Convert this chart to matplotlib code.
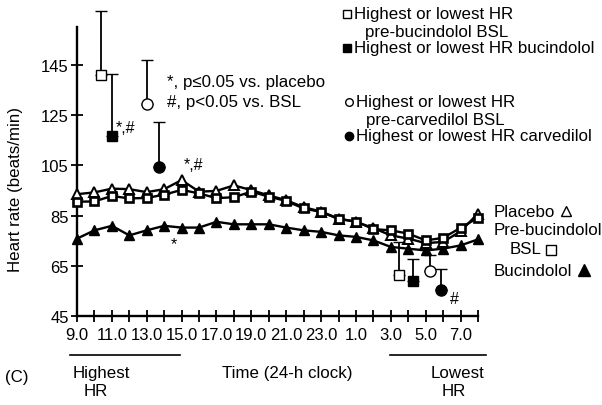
import numpy as np
import matplotlib
matplotlib.use("Agg")
from matplotlib import pyplot as plt
from matplotlib.lines import Line2D

plt.rcParams['font.family'] = ['Liberation Sans', 'DejaVu Sans']

# hours on a 9.0 -> 8.0 (next day) clock, written as 9..32
hours = np.arange(9, 33)
tick_hours = np.arange(9, 33, 2)
tick_labels = ["9.0", "11.0", "13.0", "15.0", "17.0", "19.0", "21.0", "23.0",
               "1.0", "3.0", "5.0", "7.0"]

placebo = [93.5, 94.2, 95.7, 95.5, 94.3, 95.5, 99.1, 94.5, 94.8, 97.0, 95.1, 93.0,
           91.1, 88.3, 86.6, 83.8, 82.5, 80.0, 77.1, 75.8, 74.0, 74.5, 78.7, 85.8]
pre_bucindolol = [90.5, 90.6, 92.8, 91.8, 92.0, 93.3, 95.2, 93.8, 91.9, 92.3, 94.5, 92.5,
                  90.8, 87.8, 86.4, 83.6, 82.6, 79.6, 79.1, 77.8, 75.1, 76.1, 80.1, 84.1]
bucindolol = [75.8, 79.1, 80.9, 77.1, 79.1, 80.9, 80.2, 80.2, 82.5, 81.5, 81.5, 81.5,
              80.2, 79.1, 78.5, 77.1, 76.5, 75.1, 72.5, 71.8, 71.1, 71.8, 73.1, 75.5]

# highest HR (daytime) and lowest HR (night) summary points: x, mean, upper error
high_x = [10.4, 11.0, 13.0, 13.7]
high_mean = [140.9, 116.8, 129.3, 104.2]
high_err = [25.6, 24.5, 17.6, 18.1]
low_x = [27.45, 28.25, 29.25, 29.85]
low_mean = [61.5, 58.9, 62.9, 55.3]
low_err = [13.0, 8.7, 6.3, 8.4]
summary_markers = ['s', 's', 'o', 'o']
summary_fill = ['white', 'black', 'white', 'black']

W, H = 602, 406
fig = plt.figure(figsize=(W / 100, H / 100), dpi=100)

def fx(px):
    return px / W

def fy(py):
    return 1 - py / H

ax = fig.add_axes([fx(77), fy(317), (478 - 77) / W, (317 - 3) / H])
ax.set_xlim(9, 32)
ax.set_ylim(45, 170)

ms = 6.5
ax.plot(hours, bucindolol, color='black', lw=1.7, marker='^', ms=ms,
        mfc='black', mec='black', clip_on=False, zorder=3)
ax.plot(hours, placebo, color='black', lw=1.7, marker='^', ms=ms,
        mfc='white', mec='black', mew=1.4, clip_on=False, zorder=4)
ax.plot(hours, pre_bucindolol, color='black', lw=1.7, marker='s', ms=5.5,
        mfc='white', mec='black', mew=1.9, clip_on=False, zorder=5)

for xs, ys, es in [(high_x, high_mean, high_err), (low_x, low_mean, low_err)]:
    for i in range(4):
        ax.errorbar([xs[i]], [ys[i]], yerr=[[0], [es[i]]], fmt=summary_markers[i],
                    color='black', mfc=summary_fill[i], mec='black', mew=1.0,
                    ms=8 if summary_markers[i] == 'o' else 7, elinewidth=1.3,
                    capsize=4, capthick=1.3, clip_on=False, zorder=6)

# significance marks
sig_fs = 11.5
ax.text(11.25, 120.0, "*,#", fontsize=sig_fs, va='center', ha='left')
ax.text(15.1, 105.5, "*,#", fontsize=sig_fs, va='center', ha='left')
ax.text(14.4, 74.0, "*", fontsize=sig_fs, va='center', ha='left')
ax.text(30.4, 52.0, "#", fontsize=sig_fs, va='center', ha='left')

ax.spines['top'].set_visible(False)
ax.spines['right'].set_visible(False)
ax.spines['left'].set_linewidth(1.7)
ax.spines['bottom'].set_linewidth(1.7)
ax.spines['left'].set_bounds(45, 160)
ax.spines['bottom'].set_bounds(9, 32)

ax.set_yticks([45, 65, 85, 105, 125, 145])
ax.set_xticks(tick_hours)
ax.set_xticklabels(tick_labels)
ax.set_xticks(hours, minor=True)
ax.tick_params(axis='both', which='both', direction='inout', length=8, width=1.3,
               labelsize=12)
ax.tick_params(axis='x', pad=4)
ax.tick_params(axis='y', pad=2)
ax.patch.set_alpha(0)

fs = 12.2
fig.text(fx(16), fy(190), "Heart rate (beats/min)", rotation=90, fontsize=fs,
         ha='center', va='center')

# stats legend
fig.text(fx(167), fy(83), "*, p\u22640.05 vs. placebo", fontsize=fs, va='center')
fig.text(fx(167), fy(102), "#, p<0.05 vs. BSL", fontsize=fs, va='center')

def key(px, py, marker, fill, size):
    fig.add_artist(Line2D([fx(px)], [fy(py)], marker=marker, ms=size, mfc=fill,
                          mec='black', mew=1.0, transform=fig.transFigure))

key(347, 15, 's', 'white', 6)
fig.text(fx(354), fy(15), "Highest or lowest HR", fontsize=fs, va='center')
fig.text(fx(365), fy(32), "pre-bucindolol BSL", fontsize=fs, va='center')
key(347, 49, 's', 'black', 6)
fig.text(fx(354), fy(49), "Highest or lowest HR bucindolol", fontsize=fs, va='center')
key(349, 103, 'o', 'white', 5.5)
fig.text(fx(356), fy(103), "Highest or lowest HR", fontsize=fs, va='center')
fig.text(fx(366), fy(120), "pre-carvedilol BSL", fontsize=fs, va='center')
key(349, 137, 'o', 'black', 6)
fig.text(fx(356), fy(137), "Highest or lowest HR carvedilol", fontsize=fs, va='center')

# right-side series legend
fig.text(fx(494), fy(213), "Placebo", fontsize=fs, va='center')
key(566, 212, '^', 'white', 7)
fig.text(fx(494), fy(231), "Pre-bucindolol", fontsize=fs, va='center')
fig.text(fx(510), fy(250), "BSL", fontsize=fs, va='center')
key(551, 251, 's', 'white', 6.5)
fig.text(fx(494), fy(272), "Bucindolol", fontsize=fs, va='center')
key(584, 271, '^', 'black', 8)

# bottom annotations
fig.add_artist(Line2D([fx(70), fx(180)], [fy(356), fy(356)], color='black', lw=1.2,
                      transform=fig.transFigure))
fig.add_artist(Line2D([fx(390), fx(486)], [fy(356), fy(356)], color='black', lw=1.2,
                      transform=fig.transFigure))
fig.text(fx(73), fy(374), "Highest", fontsize=fs, va='center')
fig.text(fx(84), fy(392), "HR", fontsize=fs, va='center')
fig.text(fx(287), fy(374), "Time (24-h clock)", fontsize=fs, va='center', ha='center')
fig.text(fx(484), fy(374), "Lowest", fontsize=fs, va='center', ha='right')
fig.text(fx(466), fy(392), "HR", fontsize=fs, va='center', ha='right')
fig.text(fx(5), fy(378), "(C)", fontsize=fs, va='center')

fig.savefig("out.png", dpi=100)
